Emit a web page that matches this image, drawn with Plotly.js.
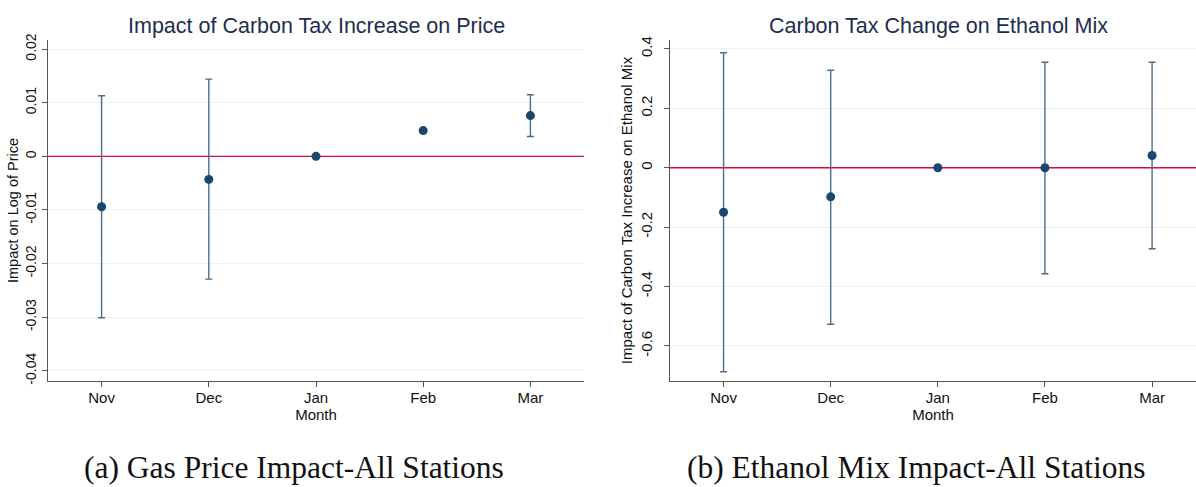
<!DOCTYPE html>
<html>
<head>
<meta charset="utf-8">
<script src="https://cdn.plot.ly/plotly-3.0.1.min.js"></script>
<style>
html,body{margin:0;padding:0;background:#fff;}
#chart{width:1196px;height:487px;}
</style>
</head>
<body>
<div id="chart"></div>
<script>
// Categories
const months = ["Nov", "Dec", "Jan", "Feb", "Mar"];
const monthPos = [1, 2, 3, 4, 5];

// Panel (a): impact on log of price
const priceCoef = [-0.0094, -0.0043, 0.0, 0.0048, 0.0076];
const priceLower = [-0.0301, -0.0229, 0.0, 0.0045, 0.0037];
const priceUpper = [0.0113, 0.0144, 0.0, 0.0051, 0.0115];

// Panel (b): impact on ethanol mix
const ethCoef = [-0.150, -0.098, 0.0, 0.0, 0.041];
const ethLower = [-0.687, -0.527, 0.0, -0.357, -0.273];
const ethUpper = [0.387, 0.328, 0.0, 0.355, 0.355];

// Tick labels
const priceTicks = [-0.04, -0.03, -0.02, -0.01, 0, 0.01, 0.02];
const priceTickText = ["-0.04", "-0.03", "-0.02", "-0.01", "0", "0.01", "0.02"];
const ethTicks = [-0.6, -0.4, -0.2, 0, 0.2, 0.4];
const ethTickText = ["-0.6", "-0.4", "-0.2", "0", "0.2", "0.4"];

const navy = "#1a476f";
const barColor = "#4b6e8e";
const redLine = "#d7063c";
const gridColor = "#eaf2f3";
const axisColor = "#555555";
const sans = "Liberation Sans, Arial, Helvetica, sans-serif";

function errTrace(coef, lo, hi, xa, ya) {
  return {
    type: "scatter", mode: "markers",
    x: monthPos, y: coef, xaxis: xa, yaxis: ya,
    marker: {color: navy, size: 9},
    error_y: {
      type: "data", symmetric: false,
      array: hi.map((h, i) => h - coef[i]),
      arrayminus: coef.map((c, i) => c - lo[i]),
      color: barColor, thickness: 1.4, width: 3.5
    },
    hoverinfo: "x+y", showlegend: false
  };
}

function zeroTrace(xa, ya, xr) {
  return {
    type: "scatter", mode: "lines",
    x: xr, y: [0, 0], xaxis: xa, yaxis: ya,
    line: {color: redLine, width: 1.4},
    hoverinfo: "skip", showlegend: false
  };
}

const xBase = {
  tickmode: "array", tickvals: monthPos, ticktext: months,
  ticks: "outside", ticklen: 5, tickcolor: axisColor, tickwidth: 1,
  showline: true, linecolor: axisColor, linewidth: 1.3,
  showgrid: false, zeroline: false,
  ticklabelstandoff: -2,
  tickfont: {family: sans, size: 15, color: "#111"},
  title: {text: "Month", font: {family: sans, size: 15, color: "#111"}, standoff: 0}
};
const yBase = {
  tickmode: "array",
  ticks: "outside", ticklen: 5, tickcolor: axisColor, tickwidth: 1,
  showline: true, linecolor: axisColor, linewidth: 1.3,
  showgrid: true, gridcolor: gridColor, gridwidth: 1,
  zeroline: false, tickangle: -90
};

const data = [
  zeroTrace("x", "y", [0.5, 5.5]),
  errTrace(priceCoef, priceLower, priceUpper, "x", "y"),
  zeroTrace("x2", "y2", [0.5, 5.5]),
  errTrace(ethCoef, ethLower, ethUpper, "x2", "y2")
];

const layout = {
  width: 1196, height: 487,
  margin: {l: 0, r: 0, t: 0, b: 0},
  paper_bgcolor: "#fff", plot_bgcolor: "#fff",
  xaxis: Object.assign({}, xBase, {domain: [48/1196, 584/1196], range: [0.5, 5.5], anchor: "y"}),
  yaxis: Object.assign({}, yBase, {
    domain: [1 - 381/487, 1 - 40/487], range: [-0.0419, 0.0217], anchor: "x",
    tickvals: priceTicks, ticktext: priceTickText,
    tickfont: {family: sans, size: 14, color: "#111"},
    title: {text: "Impact on Log of Price", font: {family: sans, size: 14.5, color: "#111"}, standoff: 1}
  }),
  xaxis2: Object.assign({}, xBase, {domain: [670/1196, 1], range: [0.5, 5.41], anchor: "y2"}),
  yaxis2: Object.assign({}, yBase, {
    domain: [1 - 381/487, 1 - 40/487], range: [-0.718, 0.430], anchor: "x2",
    tickvals: ethTicks, ticktext: ethTickText,
    tickfont: {family: sans, size: 15, color: "#111"},
    ticklabelstandoff: 6,
    title: {text: "Impact of Carbon Tax Increase on Ethanol Mix", font: {family: sans, size: 15, color: "#111"}, standoff: 1}
  }),
  annotations: [
    {text: "Impact of Carbon Tax Increase on Price", xref: "paper", yref: "paper",
     x: 316/1196, y: 1 - 26/487, xanchor: "center", yanchor: "middle", showarrow: false,
     font: {family: sans, size: 21.5, color: "#1e2d4f"}},
    {text: "Carbon Tax Change on Ethanol Mix", xref: "paper", yref: "paper",
     x: 938/1196, y: 1 - 26/487, xanchor: "center", yanchor: "middle", showarrow: false,
     font: {family: sans, size: 21.5, color: "#1e2d4f"}},
    {text: "(a) Gas Price Impact-All Stations", xref: "paper", yref: "paper",
     x: 294/1196, y: 1 - 467/487, xanchor: "center", yanchor: "middle", showarrow: false,
     font: {family: "Liberation Serif, Times New Roman, serif", size: 31.5, color: "#111"}},
    {text: "(b) Ethanol Mix Impact-All Stations", xref: "paper", yref: "paper",
     x: 916/1196, y: 1 - 467/487, xanchor: "center", yanchor: "middle", showarrow: false,
     font: {family: "Liberation Serif, Times New Roman, serif", size: 31.5, color: "#111"}}
  ]
};

Plotly.newPlot("chart", data, layout, {displayModeBar: false, staticPlot: true});
</script>
</body>
</html>
